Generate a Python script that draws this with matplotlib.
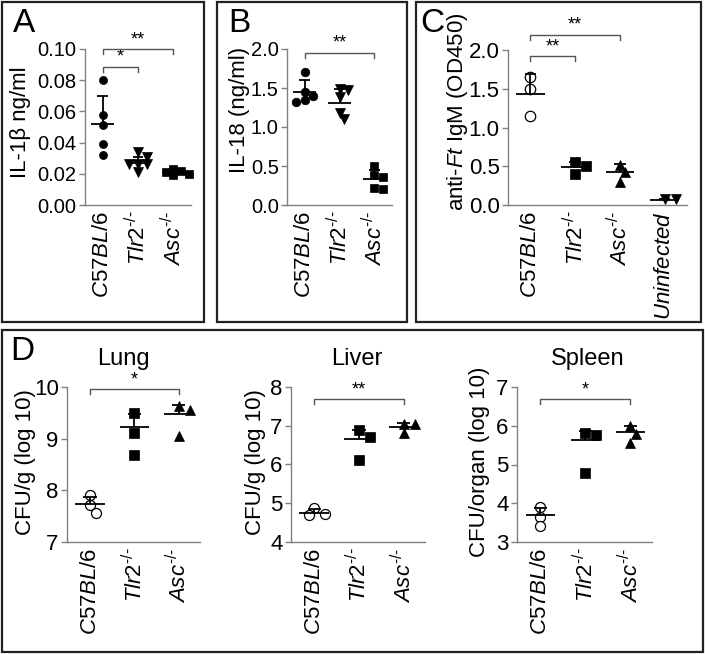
import matplotlib
matplotlib.use('Agg')
import matplotlib.pyplot as plt
from matplotlib.patches import Rectangle

plt.rcParams['font.family'] = ['Liberation Sans', 'DejaVu Sans']
plt.rcParams['mathtext.fontset'] = 'custom'
plt.rcParams['mathtext.rm'] = 'Liberation Sans'
plt.rcParams['mathtext.it'] = 'Liberation Sans:italic'
plt.rcParams['mathtext.bf'] = 'Liberation Sans:bold'

# ---------------- data ----------------
labels3 = [r'$\mathit{C57BL/6}$', r'$\mathit{Tlr2}^{\text{-/-}}$', r'$\mathit{Asc}^{\text{-/-}}$']
labels4 = labels3 + [r'$\mathit{Uninfected}$']

# Panel A: IL-1beta ng/ml
il1b_c57 = [0.080, 0.058, 0.051, 0.039, 0.032]
il1b_tlr2 = [0.034, 0.031, 0.026, 0.026, 0.026, 0.021]
il1b_asc = [0.023, 0.022, 0.021, 0.020, 0.019]
il1b_mean = [0.052, 0.027, 0.021]
il1b_err = [0.018, 0.004, 0.001]

# Panel B: IL-18 ng/ml
il18_c57 = [1.70, 1.45, 1.40, 1.35, 1.32]
il18_tlr2 = [1.49, 1.47, 1.38, 1.18, 1.10]
il18_asc = [0.50, 0.39, 0.36, 0.22, 0.21]
il18_mean = [1.45, 1.31, 0.33]
il18_err = [0.15, 0.18, 0.12]

# Panel C: anti-Ft IgM (OD450)
igm_c57 = [1.65, 1.50, 1.15]
igm_tlr2 = [0.56, 0.50, 0.40]
igm_asc = [0.52, 0.43, 0.30]
igm_uninf = [0.08, 0.08]
igm_mean = [1.43, 0.49, 0.43, 0.07]
igm_err = [0.26, 0.07, 0.10, 0.01]

# Panel D: CFU (log 10)
lung_c57 = [7.90, 7.72, 7.57]
lung_tlr2 = [9.50, 9.10, 8.68]
lung_asc = [9.63, 9.55, 9.05]
lung_mean = [7.73, 9.22, 9.48]
lung_err = [0.15, 0.25, 0.17]

liver_c57 = [4.88, 4.72, 4.70]
liver_tlr2 = [6.88, 6.72, 6.12]
liver_asc = [7.05, 7.05, 6.80]
liver_mean = [4.75, 6.67, 6.98]
liver_err = [0.10, 0.22, 0.10]

spleen_c57 = [3.90, 3.65, 3.42]
spleen_tlr2 = [5.82, 5.76, 4.78]
spleen_asc = [6.00, 5.80, 5.56]
spleen_mean = [3.70, 5.62, 5.83]
spleen_err = [0.18, 0.24, 0.17]

# ---------------- figure ----------------
W, H = 705, 654
fig = plt.figure(figsize=(W / 100, H / 100), dpi=100)
GRAY = '#808080'


def add_ax(x0, x1, ytop, ybot):
    return fig.add_axes([x0 / W, 1 - ybot / H, (x1 - x0) / W, (ybot - ytop) / H])


def style(ax, xlim, ylim, yticks, yticklabels, xlabels, ysize=14.5):
    ax.set_xlim(*xlim)
    ax.set_ylim(*ylim)
    for s in ['top', 'right']:
        ax.spines[s].set_visible(False)
    for s in ['left', 'bottom']:
        ax.spines[s].set_color(GRAY)
        ax.spines[s].set_linewidth(1.0)
    ax.set_yticks(yticks)
    ax.set_yticklabels(yticklabels, fontsize=ysize)
    ax.tick_params(axis='y', direction='out', length=4, width=1, color=GRAY, pad=2)
    ax.set_xticks(range(len(xlabels)))
    ax.set_xticklabels(xlabels, rotation=90, fontsize=16)
    ax.tick_params(axis='x', length=0, pad=4)
    ax.patch.set_alpha(0)


def swarm(ax, xc, vals, diam):
    xl = ax.get_xlim()
    yl = ax.get_ylim()
    pxx = ax.bbox.width / (xl[1] - xl[0])
    pxy = ax.bbox.height / (yl[1] - yl[0])
    cands = [0.0]
    for i in range(1, 15):
        cands += [i * diam * 0.55, -i * diam * 0.55]
    placed, xs = [], []
    for v in vals:
        y = v * pxy
        for c in cands:
            if all((c - px) ** 2 + (y - py) ** 2 >= (diam * 0.85) ** 2 for px, py in placed):
                break
        placed.append((c, y))
        xs.append(xc + c / pxx)
    return xs


def group(ax, xc, vals, marker, ms, open_=False, diam=9):
    xs = swarm(ax, xc, vals, diam)
    if open_:
        ax.plot(xs, vals, ls='none', marker=marker, ms=ms, mfc='white', mec='black',
                mew=0.9, zorder=3, clip_on=False)
    else:
        ax.plot(xs, vals, ls='none', marker=marker, ms=ms, mfc='black', mec='black',
                mew=0.5, zorder=3, clip_on=False)


def meanbar(ax, x, m, e, mw=0.32, cw=0.15, lw=1.3):
    kw = dict(color='black', lw=lw, zorder=4, solid_capstyle='butt', clip_on=False)
    ax.plot([x - mw, x + mw], [m, m], **kw)
    ax.plot([x, x], [m, m + e], **kw)
    ax.plot([x - cw, x + cw], [m + e, m + e], **kw)


def bracket(ax, x1, x2, y, stars, tick_px=5, fs=13):
    yl = ax.get_ylim()
    pxy = ax.bbox.height / (yl[1] - yl[0])
    h = tick_px / pxy
    ax.plot([x1, x1, x2, x2], [y - h, y, y, y - h], color='#555555', lw=1.0,
            clip_on=False, zorder=5)
    ax.text((x1 + x2) / 2, y + 1 / pxy, stars, ha='center', va='bottom', fontsize=fs,
            color='black')


def flabel(x, y, s, size=16, rot=90, **kw):
    fig.text(x / W, 1 - y / H, s, rotation=rot, ha='center', va='center', fontsize=size, **kw)


# panel boxes
for (x0, y0, x1, y1) in [(2, 2, 204, 322), (217, 2, 407, 322), (416, 2, 701, 322), (2, 330, 703, 652)]:
    fig.add_artist(Rectangle((x0 / W, 1 - y1 / H), (x1 - x0) / W, (y1 - y0) / H,
                             transform=fig.transFigure, fill=False, lw=1.6, ec='#222222'))

for (x, y, s) in [(24, 23, 'A'), (239, 23, 'B'), (432, 23, 'C'), (22, 351, 'D')]:
    fig.text(x / W, 1 - y / H, s, ha='center', va='center', fontsize=24)

# ---- Panel A ----
axA = add_ax(85, 191, 49, 205)
style(axA, (-0.5, 2.5), (0, 0.10), [0, 0.02, 0.04, 0.06, 0.08, 0.10],
      ['0.00', '0.02', '0.04', '0.06', '0.08', '0.10'], labels3)
group(axA, 0, il1b_c57, 'o', 5.8, diam=8)
group(axA, 1, il1b_tlr2, 'v', 6.5, diam=8)
group(axA, 2, il1b_asc, 's', 6.0, diam=7)
for i in range(3):
    meanbar(axA, i, il1b_mean[i], il1b_err[i])
bracket(axA, 0, 1, 0.0885, '*')
bracket(axA, 0, 2, 0.100, '**')
flabel(21, 122, 'IL-1β ng/ml')

# ---- Panel B ----
axB = add_ax(287, 392, 49, 205)
style(axB, (-0.5, 2.5), (0, 2.0), [0, 0.5, 1.0, 1.5, 2.0],
      ['0.0', '0.5', '1.0', '1.5', '2.0'], labels3)
group(axB, 0, il18_c57, 'o', 6.2, diam=8)
group(axB, 1, il18_tlr2, 'v', 6.5, diam=8)
group(axB, 2, il18_asc, 's', 6.2, diam=8)
for i in range(3):
    meanbar(axB, i, il18_mean[i], il18_err[i])
bracket(axB, 0, 2, 1.95, '**')
flabel(239, 110, 'IL-18 (ng/ml)')

# ---- Panel C ----
axC = add_ax(508, 687, 50, 205)
style(axC, (-0.5, 3.5), (0, 2.0), [0, 0.5, 1.0, 1.5, 2.0],
      ['0.0', '0.5', '1.0', '1.5', '2.0'], labels4, ysize=16)
group(axC, 0, igm_c57, 'o', 7.5, open_=True, diam=11)
group(axC, 1, igm_tlr2, 's', 7.0, diam=10)
group(axC, 2, igm_asc, '^', 7.5, diam=10)
group(axC, 3, igm_uninf, 'v', 7.5, diam=10)
for i in range(4):
    meanbar(axC, i, igm_mean[i], igm_err[i], mw=0.32, cw=0.13)
bracket(axC, 0, 1, 1.92, '**')
bracket(axC, 0, 2, 2.20, '**')
flabel(457, 112, r'anti-$\mathit{Ft}$ IgM (OD450)', size=16)

# ---- Panel D ----
organs = [
    ('Lung', 67, 200, (7, 10), [7, 8, 9, 10], lung_c57, lung_tlr2, lung_asc, lung_mean, lung_err,
     9.96, '*', 26, 'CFU/g (log 10)', 123),
    ('Liver', 291, 425, (4, 8), [4, 5, 6, 7, 8], liver_c57, liver_tlr2, liver_asc, liver_mean,
     liver_err, 7.69, '**', 255, 'CFU/g (log 10)', 357),
    ('Spleen', 517, 652, (3, 7), [3, 4, 5, 6, 7], spleen_c57, spleen_tlr2, spleen_asc,
     spleen_mean, spleen_err, 6.69, '*', 480, 'CFU/organ (log 10)', 588),
]
for (name, x0, x1, ylim, yt, c57, tlr2, asc, mean, err, by, st, lx, lab, tx) in organs:
    ax = add_ax(x0, x1, 387, 542)
    style(ax, (-0.52, 2.48), ylim, yt, [str(t) for t in yt], labels3, ysize=16)
    group(ax, 0, c57, 'o', 7.2, open_=True, diam=10)
    group(ax, 1, tlr2, 's', 7.0, diam=10)
    group(ax, 2, asc, '^', 7.2, diam=10)
    for i in range(3):
        meanbar(ax, i, mean[i], err[i], mw=0.33, cw=0.15)
    bracket(ax, 0, 2, by, st)
    flabel(lx, 462, lab)
    fig.text(tx / W, 1 - 359 / H, name, ha='center', va='center', fontsize=17)

fig.savefig('out.png', dpi=100)
